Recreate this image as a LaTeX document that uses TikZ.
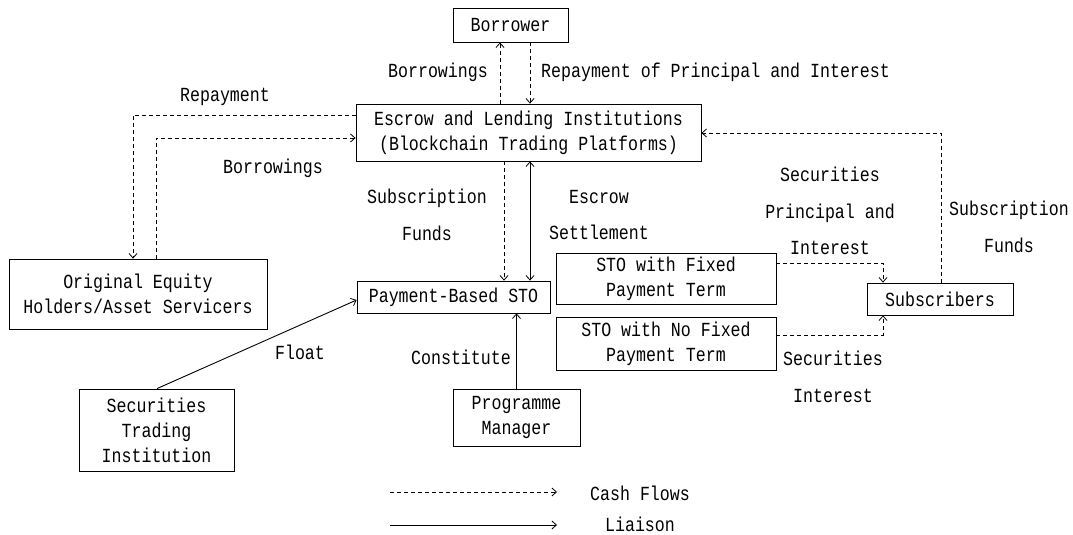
\documentclass[tikz,border=0pt]{standalone}
\usepackage{fontspec}
\setmainfont{Liberation Mono}[FakeStretch=0.83]
\usetikzlibrary{arrows.meta}
\tikzset{
  box/.style={draw, line width=0.8pt, inner sep=0pt, align=center, font=\fontsize{20}{25}\selectfont},
  lbl/.style={inner sep=0pt, align=center, font=\fontsize{20}{36.5}\selectfont},
  tip/.tip={Straight Barb[length=4.5pt,width=8pt,line width=0.8pt]},
  cash/.style={line width=0.8pt, dash pattern=on 4pt off 3pt, -tip},
  liaison/.style={line width=0.9pt, -tip},
}
\begin{document}
\begin{tikzpicture}[x=1pt,y=-1pt]
\useasboundingbox[fill=white] (0,0) rectangle (1073,535);
% boxes
\node[box, minimum width=115, minimum height=34] (bor) at (510.5,25) {Borrower};
\node[box, minimum width=345, minimum height=57] (esc) at (528.5,132.5) {Escrow and Lending Institutions\\(Blockchain Trading Platforms)};
\node[box, minimum width=258, minimum height=70] (oeh) at (138,294) {Original Equity\\Holders/Asset Servicers};
\node[box, minimum width=193, minimum height=32] (pay) at (453.5,297) {Payment-Based STO};
\node[box, minimum width=220, minimum height=51] (fix) at (666,278.5) {STO with Fixed\\Payment Term};
\node[box, minimum width=220, minimum height=53] (nofix) at (666,343.5) {STO with No Fixed\\Payment Term};
\node[box, minimum width=146, minimum height=32] (sub) at (940,299) {Subscribers};
\node[box, minimum width=155, minimum height=82] (sti) at (156.5,430) {Securities\\Trading\\Institution};
\node[box, minimum width=127, minimum height=57] (pm) at (516.5,417.5) {Programme\\Manager};
% helper coordinates
\coordinate (x500) at (500,0);
\coordinate (x530) at (530,0);
\coordinate (x504) at (504,0);
\coordinate (r1) at (133,115);
\coordinate (b1) at (156,138);
\coordinate (s1) at (941,133);
\coordinate (f1) at (883,263);
\coordinate (n1) at (883,335);
\coordinate (fl) at (157,0);
\coordinate (lg1) at (390,492);
\coordinate (lg2) at (557,492);
\coordinate (lg3) at (390,525);
\coordinate (lg4) at (557,525);
% connectors
\draw[cash] (x500 |- esc.north) -- (x500 |- bor.south);
\draw[cash] (x530 |- bor.south) -- (x530 |- esc.north);
\draw[cash] (esc.west |- r1) -- (r1) -- (r1 |- oeh.north);
\draw[cash] (b1 |- oeh.north) -- (b1) -- (b1 -| esc.west);
\draw[cash] (x504 |- esc.south) -- (x504 |- pay.north);
\draw[liaison, tip-tip] (x530 |- esc.south) -- (x530 |- pay.north);
\draw[cash] (s1 |- sub.north) -- (s1) -- (s1 -| esc.east);
\draw[cash] (fix.east |- f1) -- (f1) -- (f1 |- sub.north);
\draw[cash] (nofix.east |- n1) -- (n1) -- (n1 |- sub.south);
\draw[liaison] (pm.north) -- (pm.north |- pay.south);
\draw[liaison] (fl |- sti.north) -- ([yshift=-3pt]pay.west);
\draw[cash] (lg1) -- (lg2);
\draw[liaison] (lg3) -- (lg4);
% labels
\node[lbl, anchor=east] (l1) at (488,72) {Borrowings};
\node[lbl, anchor=west] (l2) at (541,72) {Repayment of Principal and Interest};
\node[lbl] (l3) at (225,97) {Repayment};
\node[lbl] (l4) at (273,168) {Borrowings};
\node[lbl] (l5) at (427,215) {Subscription\\Funds};
\node[lbl] (l6) at (599,215) {Escrow\\Settlement};
\node[lbl] (l7) at (830,211) {Securities\\Principal and\\Interest};
\node[lbl] (l8) at (1009,227) {Subscription\\Funds};
\node[lbl] (l9) at (833,377) {Securities\\Interest};
\node[lbl] (l10) at (300,352) {Float};
\node[lbl] (l11) at (461,357) {Constitute};
\node[lbl] (l12) at (640,493) {Cash Flows};
\node[lbl] (l13) at (640,524) {Liaison};
\end{tikzpicture}
\end{document}
